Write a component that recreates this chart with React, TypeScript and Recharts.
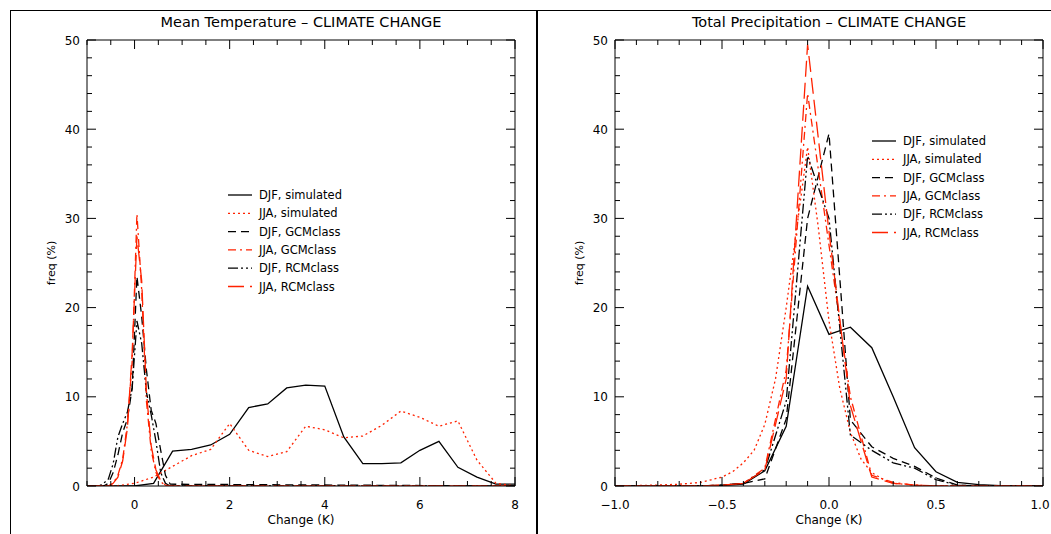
import { LineChart, Line, XAxis, YAxis, Legend } from 'recharts'

const RED = '#ff2200'
const FONT = '"DejaVu Sans", sans-serif'

// axis ticks
const tempTicks = [-1, -0.5, 0, 0.5, 1, 1.5, 2, 2.5, 3, 3.5, 4, 4.5, 5, 5.5, 6, 6.5, 7, 7.5, 8]
const tempMajor = [0, 2, 4, 6, 8]
const tempLabels = ['0', '2', '4', '6', '8']
const precipTicks = [-1, -0.9, -0.8, -0.7, -0.6, -0.5, -0.4, -0.3, -0.2, -0.1, 0, 0.1, 0.2, 0.3, 0.4, 0.5, 0.6, 0.7, 0.8, 0.9, 1]
const precipMajor = [-1, -0.5, 0, 0.5, 1]
const precipLabels = ['\u22121.0', '\u22120.5', '0.0', '0.5', '1.0']
const freqTicks = [0, 2, 4, 6, 8, 10, 12, 14, 16, 18, 20, 22, 24, 26, 28, 30, 32, 34, 36, 38, 40, 42, 44, 46, 48, 50]
const freqMajor = [0, 10, 20, 30, 40, 50]
const freqLabels = ['0', '10', '20', '30', '40', '50']

const seriesNames = ['DJF, simulated', 'JJA, simulated', 'DJF, GCMclass', 'JJA, GCMclass', 'DJF, RCMclass', 'JJA, RCMclass']

// mean temperature change (K)
const tempSimX = [-1, -0.4, 0, 0.4, 0.8, 1.2, 1.6, 2.0, 2.4, 2.8, 3.2, 3.6, 4.0, 4.4, 4.8, 5.2, 5.6, 6.0, 6.4, 6.8, 7.2, 7.6, 8.0]
const djfSimT = [0, 0, 0, 0.3, 3.9, 4.1, 4.6, 5.8, 8.8, 9.2, 11.0, 11.3, 11.2, 5.5, 2.5, 2.5, 2.6, 4.0, 5.0, 2.1, 1.0, 0.2, 0.2]
const jjaSimT = [0, 0, 0.3, 1.0, 2.2, 3.4, 4.1, 7.0, 4.0, 3.3, 3.85, 6.7, 6.3, 5.4, 5.6, 6.8, 8.4, 7.7, 6.7, 7.3, 2.9, 0.3, 0]
const tempClassX = [-1, -0.75, -0.65, -0.55, -0.45, -0.35, -0.25, -0.15, -0.05, 0.05, 0.15, 0.25, 0.35, 0.45, 0.55, 0.65, 0.75, 8]
const djfGcmT = [0, 0, 0, 0.3, 1.5, 3.5, 6, 7.5, 11, 23.5, 19, 13, 8.5, 7, 4, 1.2, 0.2, 0]
const jjaGcmT = [0, 0, 0, 0, 0.3, 1.2, 3, 7, 14, 30.5, 22, 9.5, 4, 1.5, 0.5, 0, 0, 0]
const djfRcmT = [0, 0, 0.3, 0.8, 2.5, 5.5, 7, 8.3, 11, 18.5, 16, 10.5, 8, 5, 1.5, 0.3, 0, 0]
const jjaRcmT = [0, 0, 0, 0, 0.3, 1, 2.8, 6.5, 15, 28, 23, 10.5, 4.5, 1.8, 0.6, 0.1, 0, 0]

// total precipitation change
const precipX = [-1, -0.9, -0.8, -0.7, -0.6, -0.5, -0.4, -0.3, -0.2, -0.1, 0, 0.1, 0.2, 0.3, 0.4, 0.5, 0.6, 0.7, 0.8, 0.9, 1]
const djfSimP = [0, 0, 0, 0, 0, 0.05, 0.2, 1.7, 6.7, 22.4, 17.0, 17.8, 15.5, 10.0, 4.3, 1.6, 0.4, 0.15, 0.05, 0, 0]
const djfGcmP = [0, 0, 0, 0, 0, 0.1, 0.3, 0.8, 7.5, 30, 39.5, 7.4, 4.4, 3.1, 2.2, 0.9, 0.1, 0, 0, 0, 0]
const jjaGcmP = [0, 0, 0, 0, 0, 0.1, 0.3, 2.0, 13, 44, 27, 10, 1.2, 0.4, 0.1, 0, 0, 0, 0, 0, 0]
const djfRcmP = [0, 0, 0, 0, 0, 0.1, 0.3, 1.8, 9.5, 37, 30, 5.7, 4.0, 2.6, 2.0, 0.7, 0.1, 0, 0, 0, 0]
const jjaRcmP = [0, 0, 0, 0, 0, 0.1, 0.3, 1.8, 12, 49.5, 28.5, 9, 1.0, 0.3, 0.1, 0, 0, 0, 0, 0, 0]
const precipFineX = [-1, -0.9, -0.8, -0.7, -0.6, -0.55, -0.5, -0.45, -0.4, -0.35, -0.3, -0.25, -0.2, -0.15, -0.1, -0.05, 0, 0.05, 0.1, 0.15, 0.2, 0.25, 0.3, 0.4, 0.5, 1]
const jjaSimP = [0, 0.05, 0.1, 0.2, 0.4, 0.7, 1.0, 1.6, 2.6, 4.0, 6.9, 12, 20, 29, 38, 29, 18.5, 11, 6, 3, 1.5, 0.8, 0.3, 0.1, 0, 0]

const styles = [
  { stroke: '#000', dash: undefined as string | undefined },
  { stroke: RED, dash: '2 3' },
  { stroke: '#000', dash: '8 5' },
  { stroke: RED, dash: '8 4 2 4' },
  { stroke: '#000', dash: '10 3 2 3 2 3' },
  { stroke: RED, dash: '16 6' },
]

const zip = (xs: number[], fs: number[]) => xs.map((x, i) => ({ x, f: fs[i] }))

const tempSeries = [
  zip(tempSimX, djfSimT), zip(tempSimX, jjaSimT),
  zip(tempClassX, djfGcmT), zip(tempClassX, jjaGcmT),
  zip(tempClassX, djfRcmT), zip(tempClassX, jjaRcmT),
]
const precipSeries = [
  zip(precipX, djfSimP), zip(precipFineX, jjaSimP),
  zip(precipX, djfGcmP), zip(precipX, jjaGcmP),
  zip(precipX, djfRcmP), zip(precipX, jjaRcmP),
]

type Side = 'bottom' | 'top' | 'left' | 'right'

// inward IDL-style ticks, long on majors, labels only on bottom/left majors
const tickFor = (side: Side, majors: number[], labels?: string[], lastShift = 0) => (props: any) => {
  const { x, y, payload } = props
  const mi = majors.findIndex(m => Math.abs(m - payload.value) < 1e-6)
  const len = mi >= 0 ? 9 : 5
  let x2 = x, y2 = y
  if (side === 'bottom') y2 = y - len
  if (side === 'top') y2 = y + len
  if (side === 'left') x2 = x + len
  if (side === 'right') x2 = x - len
  const label = labels && mi >= 0 ? labels[mi] : null
  const shift = mi === majors.length - 1 ? lastShift : 0
  return (
    <g>
      <line x1={x} y1={y} x2={x2} y2={y2} stroke="#000" strokeWidth={1} />
      {label && side === 'bottom' && (
        <text x={x + shift} y={y + 23} textAnchor="middle" fontSize={12} fontFamily={FONT} fill="#000">{label}</text>
      )}
      {label && side === 'left' && (
        <text x={x - 7} y={y + 4.5} textAnchor="end" fontSize={12} fontFamily={FONT} fill="#000">{label}</text>
      )}
    </g>
  )
}

function LegendBox() {
  return (
    <svg width={200} height={112}>
      {seriesNames.map((n, i) => (
        <g key={n}>
          <line x1={0} x2={24} y1={9 + i * 18.3} y2={9 + i * 18.3} stroke={styles[i].stroke}
            strokeWidth={1.3} strokeDasharray={styles[i].dash} />
          <text x={31} y={13 + i * 18.3} fontSize={11.5} fontFamily={FONT} fill="#000">{n}</text>
        </g>
      ))}
    </svg>
  )
}

interface PanelProps {
  left: number
  width: number
  marginRight: number
  yWidth: number
  title: string
  xDomain: [number, number]
  xTicks: number[]
  xMajor: number[]
  xLabels: string[]
  lastShift: number
  series: { x: number; f: number }[][]
  legendPos: { left: number; top: number }
}

function Panel(p: PanelProps) {
  const plotLeft = p.left + p.yWidth
  const plotRight = p.left + p.width - p.marginRight
  const cx = (plotLeft + plotRight) / 2
  const last = p.series.length - 1
  return (
    <>
      <div style={{ position: 'absolute', left: p.left, top: 10 }}>
        <LineChart width={p.width} height={524} margin={{ top: 29, right: p.marginRight - 1, bottom: 0, left: 0 }}>
          <XAxis dataKey="x" type="number" domain={p.xDomain} allowDataOverflow ticks={p.xTicks} interval={0}
            height={48} tickSize={0} tickMargin={0} tickLine={false} stroke="#000"
            tick={tickFor('bottom', p.xMajor, p.xLabels, p.lastShift)} />
          <XAxis xAxisId="top" orientation="top" dataKey="x" type="number" domain={p.xDomain} allowDataOverflow
            ticks={p.xTicks} interval={0} height={1} tickSize={0} tickMargin={0} tickLine={false} stroke="#000"
            tick={tickFor('top', p.xMajor)} />
          <YAxis type="number" domain={[0, 50]} allowDataOverflow ticks={freqTicks} interval={0} width={p.yWidth}
            tickSize={0} tickMargin={0} tickLine={false} stroke="#000" tick={tickFor('left', freqMajor, freqLabels)} />
          <YAxis yAxisId="r" orientation="right" type="number" domain={[0, 50]} allowDataOverflow ticks={freqTicks}
            interval={0} width={1} tickSize={0} tickMargin={0} tickLine={false} stroke="#000"
            tick={tickFor('right', freqMajor)} />
          {p.series.map((d, i) => (
            <Line key={seriesNames[i]} data={d} dataKey="f" name={seriesNames[i]} type="linear"
              xAxisId={i === last ? 'top' : 0} yAxisId={i === last ? 'r' : 0}
              stroke={styles[i].stroke} strokeDasharray={styles[i].dash} strokeWidth={1.3}
              dot={false} activeDot={false} isAnimationActive={false} />
          ))}
          <Legend content={() => <LegendBox />} layout="vertical" align="center" verticalAlign="middle"
            wrapperStyle={{ position: 'absolute', left: p.legendPos.left, top: p.legendPos.top, width: 200 }} />
        </LineChart>
      </div>
      <div style={{ position: 'absolute', left: plotLeft, width: plotRight - plotLeft, top: 13, textAlign: 'center',
        fontSize: 14.5, lineHeight: '18px', fontFamily: FONT, whiteSpace: 'nowrap' }}>{p.title}</div>
      <div style={{ position: 'absolute', left: cx - 60, width: 120, top: 512, textAlign: 'center',
        fontSize: 12, lineHeight: '16px', fontFamily: FONT }}>Change (K)</div>
      <div style={{ position: 'absolute', left: plotLeft - 35 - 40, top: 263 - 8, width: 80, textAlign: 'center',
        fontSize: 11, lineHeight: '16px', fontFamily: FONT, transform: 'rotate(-90deg)' }}>freq (%)</div>
    </>
  )
}

export default function App() {
  return (
    <div style={{ position: 'absolute', left: 0, top: 0, width: 1051, height: 534, overflow: 'hidden', background: '#fff' }}>
      <div style={{ position: 'absolute', left: 10, top: 10, width: 1041, height: 1, background: '#000' }} />
      <div style={{ position: 'absolute', left: 10, top: 10, width: 1, height: 524, background: '#000' }} />
      <div style={{ position: 'absolute', left: 536, top: 10, width: 2, height: 524, background: '#000' }} />
      <Panel left={10} width={527} marginRight={22} yWidth={77} title="Mean Temperature – CLIMATE CHANGE"
        xDomain={[-1, 8]} xTicks={tempTicks} xMajor={tempMajor} xLabels={tempLabels} lastShift={0}
        series={tempSeries} legendPos={{ left: 218, top: 176 }} />
      <Panel left={537} width={514} marginRight={8} yWidth={78} title="Total Precipitation – CLIMATE CHANGE"
        xDomain={[-1, 1]} xTicks={precipTicks} xMajor={precipMajor} xLabels={precipLabels} lastShift={-3}
        series={precipSeries} legendPos={{ left: 335, top: 122 }} />
    </div>
  )
}
